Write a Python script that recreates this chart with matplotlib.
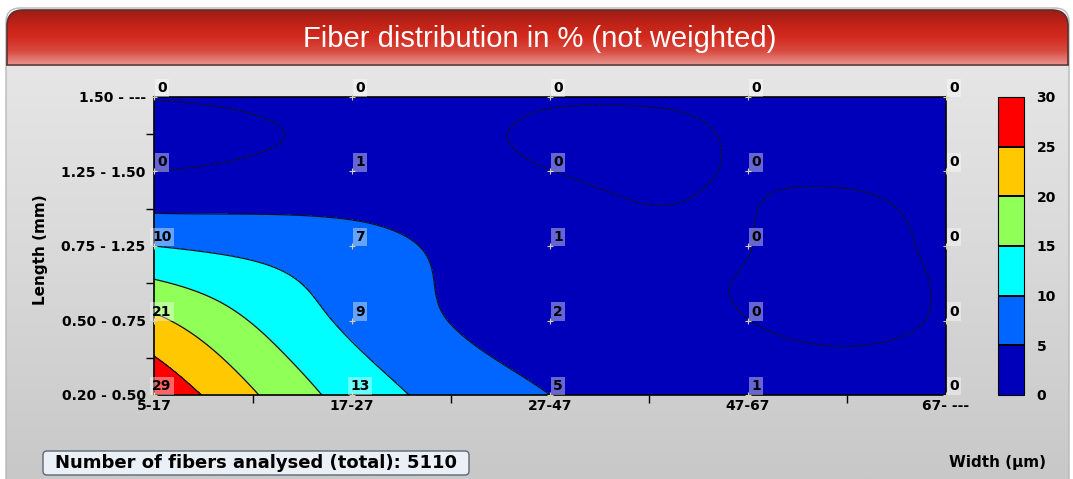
import numpy as np
import matplotlib
matplotlib.use("Agg")
import matplotlib.pyplot as plt
import matplotlib.colors as mcolors
import matplotlib.colorbar as mcolorbar
from matplotlib.patches import FancyBboxPatch, Rectangle

# width classes (x) and length classes (y, bottom to top)
width_labels = ["5-17", "17-27", "27-47", "47-67", "67- ---"]
length_labels = ["0.20 - 0.50", "0.50 - 0.75", "0.75 - 1.25", "1.25 - 1.50", "1.50 - ---"]

# fiber share in %, one list per length class, values across width classes
row_020_050 = [29, 13, 5, 1, 0]
row_050_075 = [21, 9, 2, 0, 0]
row_075_125 = [10, 7, 1, 0, 0]
row_125_150 = [0, 1, 0, 0, 0]
row_150_up = [0, 0, 0, 0, 0]

levels = [0, 5, 10, 15, 20, 25, 30]
level_colors = ["#0000bb", "#0066ff", "#00ffff", "#90ff58", "#ffc800", "#ff0000"]
n_fibers = 5110

W, H = 1073, 479
BOLD = dict(fontweight="bold", family="DejaVu Sans")


def catmull(v, n=40):
    # smooth resampling along last axis (only for drawing the contours)
    v = np.asarray(v, float)
    k = v.shape[-1]
    m = np.empty_like(v)
    m[..., 1:-1] = (v[..., 2:] - v[..., :-2]) / 2
    m[..., 0] = v[..., 1] - v[..., 0]
    m[..., -1] = v[..., -1] - v[..., -2]
    t = np.linspace(0, k - 1, (k - 1) * n + 1)
    i = np.minimum(t.astype(int), k - 2)
    s = t - i
    h00 = 2 * s**3 - 3 * s**2 + 1
    h10 = s**3 - 2 * s**2 + s
    h01 = -2 * s**3 + 3 * s**2
    h11 = s**3 - s**2
    out = h00 * v[..., i] + h10 * m[..., i] + h01 * v[..., i + 1] + h11 * m[..., i + 1]
    return t, out


def vgrad(stops, n=200):
    pos = [p for p, c in stops]
    rgb = np.array([mcolors.to_rgb(c) for p, c in stops])
    t = np.linspace(0, 1, n)
    img = np.stack([np.interp(t, pos, rgb[:, k]) for k in range(3)], axis=-1)
    return img[:, None, :]


z = np.array([row_020_050, row_050_075, row_075_125, row_125_150, row_150_up], float)
tx, zx = catmull(z)
ty, zz = catmull(zx.T)
Z = zz.T
X, Y = np.meshgrid(tx, ty)

fig = plt.figure(figsize=(W / 100, H / 100), dpi=100)
fig.patch.set_facecolor("white")

# background panel + title bar
bg = fig.add_axes([0, 0, 1, 1], zorder=-5)
bg.set_xlim(0, W)
bg.set_ylim(H, 0)
bg.axis("off")

panel = FancyBboxPatch((6, 8), 1063, 490, boxstyle="round,pad=0,rounding_size=14",
                       fc="none", ec="#b8b8b8", lw=1)
bg.add_patch(panel)
im = bg.imshow(vgrad([(0, "#e6e6e6"), (0.5, "#d8d8d8"), (1, "#c8c8c8")]),
               extent=(6, 1069, 479, 64), aspect="auto", interpolation="bilinear")
im.set_clip_path(panel)

bar = FancyBboxPatch((7, 10), 1061, 80, boxstyle="round,pad=0,rounding_size=16",
                     fc="none", ec="#5a3030", lw=1.2)
bg.add_patch(bar)
bar.set_clip_path(Rectangle((0, 0), W, 65, transform=bg.transData))
im2 = bg.imshow(vgrad([(0, "#9e1c14"), (0.3, "#c42418"), (0.5, "#d42a1e"),
                       (0.75, "#d8483e"), (1, "#e8908a")]),
                extent=(7, 1068, 64, 10), aspect="auto", interpolation="bilinear")
im2.set_clip_path(FancyBboxPatch((7, 10), 1061, 80, boxstyle="round,pad=0,rounding_size=16",
                                 transform=bg.transData))
bg.plot([7, 1068], [64.5, 64.5], color="#5a3030", lw=1.2)

fig.text(540 / W, 1 - 39 / H, "Fiber distribution in % (not weighted)", color="white",
         fontsize=21, family=["Liberation Sans", "DejaVu Sans"],
         ha="center", va="center")

# contour plot
ax = fig.add_axes([154 / W, 1 - 395 / H, (946 - 154) / W, (395 - 97) / H])
ax.contourf(X, Y, Z, levels=[-1000, 5, 10, 15, 20, 25, 1000], colors=level_colors)
ax.contour(X, Y, Z, levels=[-0.01, 5, 10, 15, 20, 25], colors="#101020", linewidths=0.9)
ax.set_xlim(0, 4)
ax.set_ylim(0, 4)
for sp in ax.spines.values():
    sp.set_linewidth(1.2)
    sp.set_color("black")

ax.set_xticks(range(5))
ax.set_xticklabels(width_labels, fontsize=10, **BOLD)
ax.set_yticks(range(5))
ax.set_yticklabels(length_labels, fontsize=10, **BOLD)
ax.set_xticks([0.5, 1.5, 2.5, 3.5], minor=True)
ax.set_yticks([0.5, 1.5, 2.5, 3.5], minor=True)
ax.tick_params(which="major", length=0)
ax.tick_params(axis="x", which="major", pad=3)
ax.tick_params(axis="y", which="major", pad=6)
ax.tick_params(which="minor", length=6, width=1, direction="out")

for j in range(5):
    for i in range(5):
        ax.plot(i, j, "+", ms=5, mew=0.8, color="#d8d0a8", clip_on=False, zorder=4)
        ax.annotate(f"{z[j, i]:.0f}", (i, j), xytext=(8, 9), textcoords="offset pixels",
                    ha="center", va="center", fontsize=10, color="black",
                    annotation_clip=False, zorder=5, **BOLD,
                    bbox=dict(boxstyle="square,pad=0.15", fc="white", ec="none", alpha=0.4))

fig.text(40 / W, 1 - 250 / H, "Length (mm)", rotation=90, ha="center", va="center",
         fontsize=11, **BOLD)
fig.text(997 / W, 1 - 463 / H, "Width (µm)", ha="center", va="center", fontsize=11, **BOLD)

# color scale
cax = fig.add_axes([998 / W, 1 - 395 / H, 26 / W, (395 - 97) / H])
cb = mcolorbar.ColorbarBase(cax, cmap=mcolors.ListedColormap(level_colors),
                            norm=mcolors.BoundaryNorm(levels, len(level_colors)),
                            boundaries=levels, ticks=levels, drawedges=True)
cb.outline.set_linewidth(0.8)
cb.dividers.set_color("black")
cb.dividers.set_linewidth(1.4)
cax.tick_params(length=0, pad=9)
cax.set_yticklabels([str(v) for v in levels], fontsize=10, **BOLD)

# footer
box = FancyBboxPatch((43, 451), 426, 24, boxstyle="round,pad=0,rounding_size=4",
                     fc="#eaf0f6", ec="#5a6878", lw=1)
bg.add_patch(box)
fig.text(256 / W, 1 - 463 / H, f"Number of fibers analysed (total): {n_fibers}",
         ha="center", va="center", fontsize=13, **BOLD)

fig.savefig("out.png", dpi=100)
